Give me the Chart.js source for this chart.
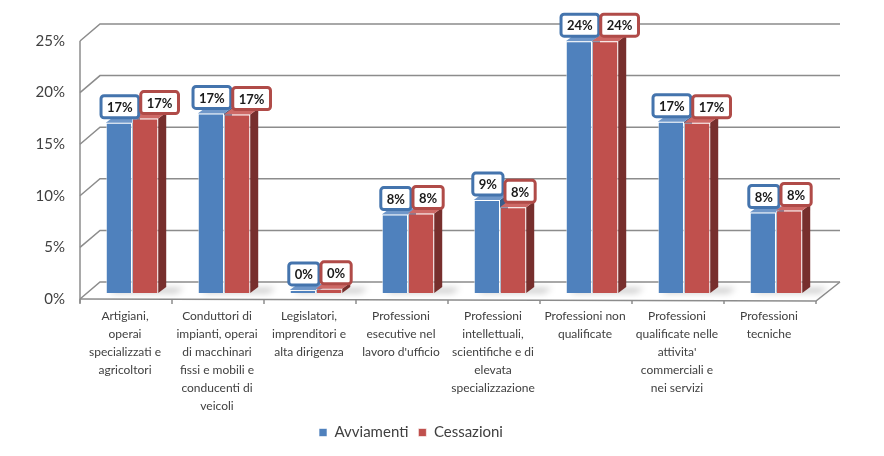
<!DOCTYPE html>
<html>
<head>
<meta charset="utf-8">
<script src="https://cdn.jsdelivr.net/npm/chart.js@4/dist/chart.umd.min.js"></script>
<style>
  html, body { margin: 0; background: #fff; }
</style>
</head>
<body>
<canvas id="chart" width="884" height="456"></canvas>
<script>
const categories = [
  ['Artigiani,', 'operai', 'specializzati e', 'agricoltori'],
  ['Conduttori di', 'impianti, operai', 'di macchinari', 'fissi e mobili e', 'conducenti di', 'veicoli'],
  ['Legislatori,', 'imprenditori e', 'alta dirigenza'],
  ['Professioni', 'esecutive nel', "lavoro d'ufficio"],
  ['Professioni', 'intellettuali,', 'scientifiche e di', 'elevata', 'specializzazione'],
  ['Professioni non', 'qualificate'],
  ['Professioni', 'qualificate nelle', "attivita'", 'commerciali e', 'nei servizi'],
  ['Professioni', 'tecniche']
];
const avviamenti = [16.5, 17.4, 0.3, 7.6, 9.0, 24.4, 16.6, 7.8];
const cessazioni = [16.9, 17.3, 0.4, 7.7, 8.3, 24.4, 16.5, 8.0];
const yTicks = [0, 5, 10, 15, 20, 25];

// 3d look: bar depth and wall offsets, relative to the bar plane
const DX = 8, DY = -6;
const FRONT = { x: -6, y: 6 };
const BACK = { x: 14, y: -11 };

function poly(ctx, pts) {
  ctx.beginPath();
  ctx.moveTo(pts[0][0], pts[0][1]);
  for (let i = 1; i < pts.length; i++) ctx.lineTo(pts[i][0], pts[i][1]);
  ctx.closePath();
}

const threeD = {
  id: 'threeD',
  beforeDatasetsDraw(chart) {
    const { ctx, chartArea: a, scales: { x, y } } = chart;
    const y0 = y.getPixelForValue(0);
    ctx.save();

    // walls and gridlines
    ctx.strokeStyle = '#8c8c8c';
    ctx.lineWidth = 1.5;
    yTicks.forEach(v => {
      const py = y.getPixelForValue(v);
      ctx.beginPath();
      ctx.moveTo(a.left + FRONT.x, py + FRONT.y);
      ctx.lineTo(a.left + BACK.x, py + BACK.y);
      ctx.lineTo(a.right + BACK.x + 4, py + BACK.y);
      ctx.stroke();
    });
    const yTop = y.getPixelForValue(yTicks[yTicks.length - 1]);
    ctx.beginPath();
    ctx.moveTo(a.left + FRONT.x, yTop + FRONT.y);
    ctx.lineTo(a.left + FRONT.x, y0 + FRONT.y + 4);
    ctx.stroke();

    // floor front and right edges
    ctx.beginPath();
    ctx.moveTo(a.left + FRONT.x, y0 + FRONT.y);
    ctx.lineTo(a.right + FRONT.x, y0 + FRONT.y + 2);
    ctx.lineTo(a.right + BACK.x + 4, y0 + BACK.y);
    ctx.stroke();
    const step = x.getPixelForValue(1) - x.getPixelForValue(0);
    for (let i = 0; i <= categories.length; i++) {
      const px = x.getPixelForValue(0) - step / 2 + i * step + FRONT.x;
      ctx.beginPath();
      ctx.moveTo(px, y0 + FRONT.y + 2 * i / categories.length);
      ctx.lineTo(px, y0 + FRONT.y + 5);
      ctx.stroke();
    }

    // soft shadows on the floor
    ctx.filter = 'blur(3px)';
    ctx.fillStyle = 'rgba(0,0,0,0.22)';
    const m0 = chart.getDatasetMeta(0).data, m1 = chart.getDatasetMeta(1).data;
    m0.forEach((b, i) => {
      const l = b.x - b.width / 2, r = m1[i].x + m1[i].width / 2;
      poly(ctx, [[l + 4, y0], [r + 18, y0], [r + 26, y0 - 5], [l + 10, y0 - 5]]);
      ctx.fill();
    });
    ctx.filter = 'none';

    // side and top faces
    chart.data.datasets.forEach((ds, di) => {
      chart.getDatasetMeta(di).data.forEach(bar => {
        const l = bar.x - bar.width / 2, r = bar.x + bar.width / 2;
        const top = bar.y, base = bar.base;
        ctx.fillStyle = ds.sideColor;
        poly(ctx, [[r, top], [r + DX, top + DY], [r + DX, base + DY], [r, base]]);
        ctx.fill();
        ctx.fillStyle = ds.topColor;
        poly(ctx, [[l, top], [l + DX, top + DY], [r + DX, top + DY], [r, top]]);
        ctx.fill();
      });
    });
    ctx.restore();
  },
  afterDatasetsDraw(chart) {
    const { ctx } = chart;
    ctx.save();
    ctx.font = 'bold 13px Lato';
    ctx.textAlign = 'center';
    ctx.textBaseline = 'middle';
    for (let i = 0; i < categories.length; i++) {
      let prevRight = -Infinity;
      chart.data.datasets.forEach((ds, di) => {
        const bar = chart.getDatasetMeta(di).data[i];
        const txt = Math.round(ds.data[i]) + '%';
        const w = ctx.measureText(txt).width + 12, h = 22;
        let cx = bar.x + (di ? 4 : 1);
        const cy = bar.y - 16;
        if (di && cx - w / 2 < prevRight + 2) cx = prevRight + 2 + w / 2;
        ctx.beginPath();
        ctx.roundRect(cx - w / 2, cy - h / 2, w, h, 3);
        ctx.fillStyle = '#fff';
        ctx.fill();
        ctx.lineWidth = 3;
        ctx.strokeStyle = ds.labelBorder;
        ctx.stroke();
        ctx.fillStyle = '#1a1a1a';
        ctx.fillText(txt, cx, cy + 1);
        prevRight = cx + w / 2;
      });
    }
    ctx.restore();
  }
};

new Chart(document.getElementById('chart'), {
  type: 'bar',
  data: {
    labels: categories,
    datasets: [
      {
        label: 'Avviamenti',
        data: avviamenti,
        backgroundColor: '#4f81bd',
        borderColor: 'rgba(255,255,255,0.6)',
        borderWidth: 1,
        sideColor: '#385d8a',
        topColor: '#6f97c9',
        labelBorder: '#4474ad'
      },
      {
        label: 'Cessazioni',
        data: cessazioni,
        backgroundColor: '#c0504d',
        borderColor: 'rgba(255,255,255,0.6)',
        borderWidth: 1,
        sideColor: '#772f2d',
        topColor: '#cd6966',
        labelBorder: '#b04b48'
      }
    ]
  },
  options: {
    responsive: false,
    animation: false,
    categoryPercentage: 0.57,
    barPercentage: 1.0,
    layout: { padding: { left: 0, right: 62, top: 35, bottom: 6 } },
    plugins: {
      tooltip: { enabled: false },
      legend: {
        position: 'bottom',
        labels: {
          boxWidth: 8,
          boxHeight: 8,
          padding: 10,
          color: '#404040',
          font: { family: 'Lato', size: 15 }
        }
      }
    },
    scales: {
      x: {
        grid: { display: false, drawTicks: false },
        border: { display: false },
        afterFit: function (scale) { scale.height = 122; },
        ticks: {
          autoSkip: false,
          maxRotation: 0,
          padding: 14,
          labelOffset: -7,
          color: '#404040',
          font: { family: 'Lato', size: 12, lineHeight: 1.5 }
        }
      },
      y: {
        min: 0,
        max: 25,
        grid: { display: false, drawTicks: false },
        border: { display: false },
        afterFit: function (scale) { scale.width = 86; },
        ticks: {
          stepSize: 5,
          padding: 21,
          labelOffset: 6,
          color: '#404040',
          font: { family: 'Lato', size: 15 },
          callback: function (value) { return value + '%'; }
        }
      }
    }
  },
  plugins: [threeD]
});
</script>
</body>
</html>
